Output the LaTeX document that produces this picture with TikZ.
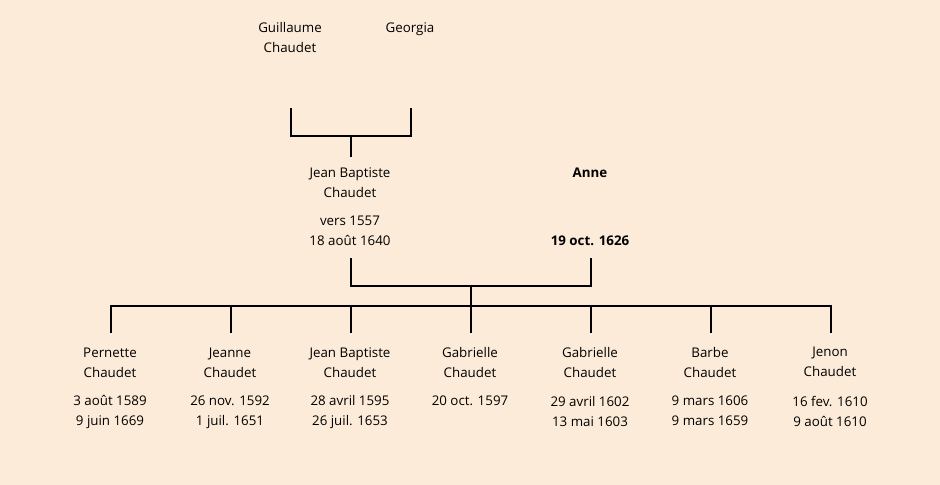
\documentclass[tikz,border=0pt]{standalone}
\usepackage{fontspec}
\setmainfont{Open Sans}
\usepackage{xcolor}
\usetikzlibrary{positioning}
\definecolor{bg}{RGB}{252,235,216}

\begin{document}
\begin{tikzpicture}[x=0.75pt, y=-0.75pt, line width=1.5pt,
  txt/.style={align=center, inner sep=0pt, font=\fontsize{10}{15}\selectfont},
  btxt/.style={txt, font=\fontsize{10}{15}\selectfont\bfseries}]
\useasboundingbox[fill=bg] (0,0) rectangle (940,485);
% grandparents
\node[txt] (gc) at (290,38) {Guillaume\\Chaudet};
\node[txt] (ge) at (410,29) {Georgia};
% parents
\node[txt] (jb) at (350,183) {Jean Baptiste\\Chaudet};
\node[txt] (jbd) at (350,231) {vers 1557\\18 août 1640};
\node[btxt] (an) at (590,173) {Anne};
\node[btxt] (and) at (590,241) {19 oct. 1626};
% children
\node[txt] (c1) at (110,363) {Pernette\\Chaudet};
\node[txt] (c1d) at (110,412) {3 août 1589\\9 juin 1669};
\node[txt] (c2) at (230,363) {Jeanne\\Chaudet};
\node[txt] (c2d) at (230,412) {26 nov. 1592\\1 juil. 1651};
\node[txt] (c3) at (350,363) {Jean Baptiste\\Chaudet};
\node[txt] (c3d) at (350,412) {28 avril 1595\\26 juil. 1653};
\node[txt] (c4) at (470,362) {Gabrielle\\Chaudet};
\node[txt] (c4d) at (470,401) {20 oct. 1597};
\node[txt] (c5) at (590,362) {Gabrielle\\Chaudet};
\node[txt] (c5d) at (590,411) {29 avril 1602\\13 mai 1603};
\node[txt] (c6) at (710,362) {Barbe\\Chaudet};
\node[txt] (c6d) at (710,411) {9 mars 1606\\9 mars 1659};
\node[txt] (c7) at (830,362) {Jenon\\Chaudet};
\node[txt] (c7d) at (830,411) {16 fev. 1610\\9 août 1610};
% bracket ends
\coordinate (gcb) at (291,108);
\coordinate (geb) at (411,108);
\coordinate (m1) at (351,136);
\coordinate (jbt) at (351,157);
\coordinate (jbb) at (351,258);
\coordinate (anb) at (591,258);
\coordinate (m2) at (471,286);
\foreach \i/\x in {1/111,2/231,3/351,4/471,5/591,6/711,7/831}
  \coordinate (c\i t) at (\x,333);
\draw (gcb) -- ++(0,28) -| (geb);
\draw (m1) -- (jbt);
\draw (jbb) -- ++(0,28) -| (anb);
\draw (m2) -- (c4t);
\draw (c1t) -- ++(0,-27) -| (c7t);
\draw (c2t) -- ++(0,-27);
\draw (c3t) -- ++(0,-27);
\draw (c5t) -- ++(0,-27);
\draw (c6t) -- ++(0,-27);
\end{tikzpicture}
\end{document}
